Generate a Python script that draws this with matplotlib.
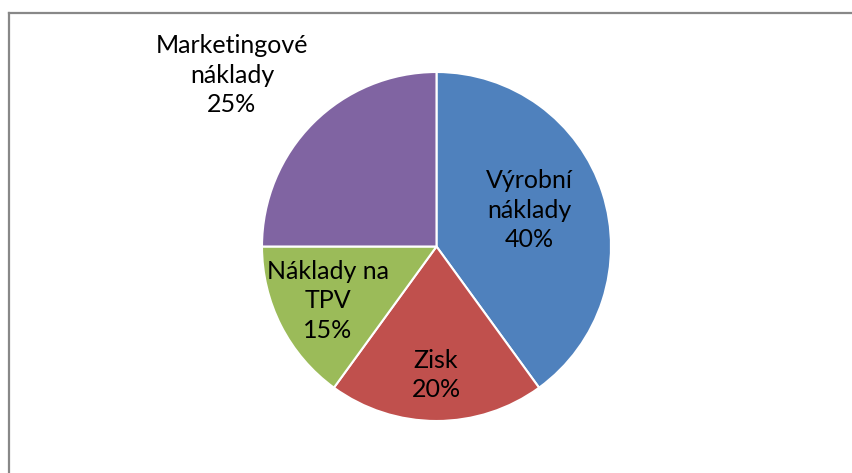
import matplotlib
matplotlib.use("Agg")
import matplotlib.pyplot as plt
from matplotlib.lines import Line2D

categories = ["Výrobní\nnáklady", "Zisk", "Náklady na\nTPV", "Marketingové\nnáklady"]
values = [40, 20, 15, 25]
colors = ["#4F81BD", "#C0504D", "#9BBB59", "#8064A2"]
# label centres in pixel coordinates (x, y from top)
label_pos = [(529, 210), (436, 375), (328, 301), (232, 75)]

W, H = 853, 473
fig = plt.figure(figsize=(W / 100, H / 100), dpi=100)
ax = fig.add_axes([0, 0, 1, 1])

cx, cy, r = 436.5, H - 246.5, 174.5
ax.pie(values, colors=colors, startangle=90, counterclock=False,
       center=(cx, cy), radius=r, frame=True,
       wedgeprops=dict(edgecolor="white", linewidth=1.5))
ax.set_xlim(0, W)
ax.set_ylim(0, H)
ax.set_aspect("equal")
ax.axis("off")

for cat, v, (px, py) in zip(categories, values, label_pos):
    ax.text(px, H - py, f"{cat}\n{v}%", ha="center", va="center",
            fontsize=18, family=["Lato", "DejaVu Sans"], color="black",
            linespacing=1.36)

# chart frame (left and top border)
fig.add_artist(Line2D([8.5 / W, 8.5 / W], [0, 1 - 13.5 / H], transform=fig.transFigure,
                      color="#888888", linewidth=1.6))
fig.add_artist(Line2D([8.5 / W, 1], [1 - 13.5 / H, 1 - 13.5 / H], transform=fig.transFigure,
                      color="#888888", linewidth=1.6))

fig.savefig("out.png", dpi=100)
